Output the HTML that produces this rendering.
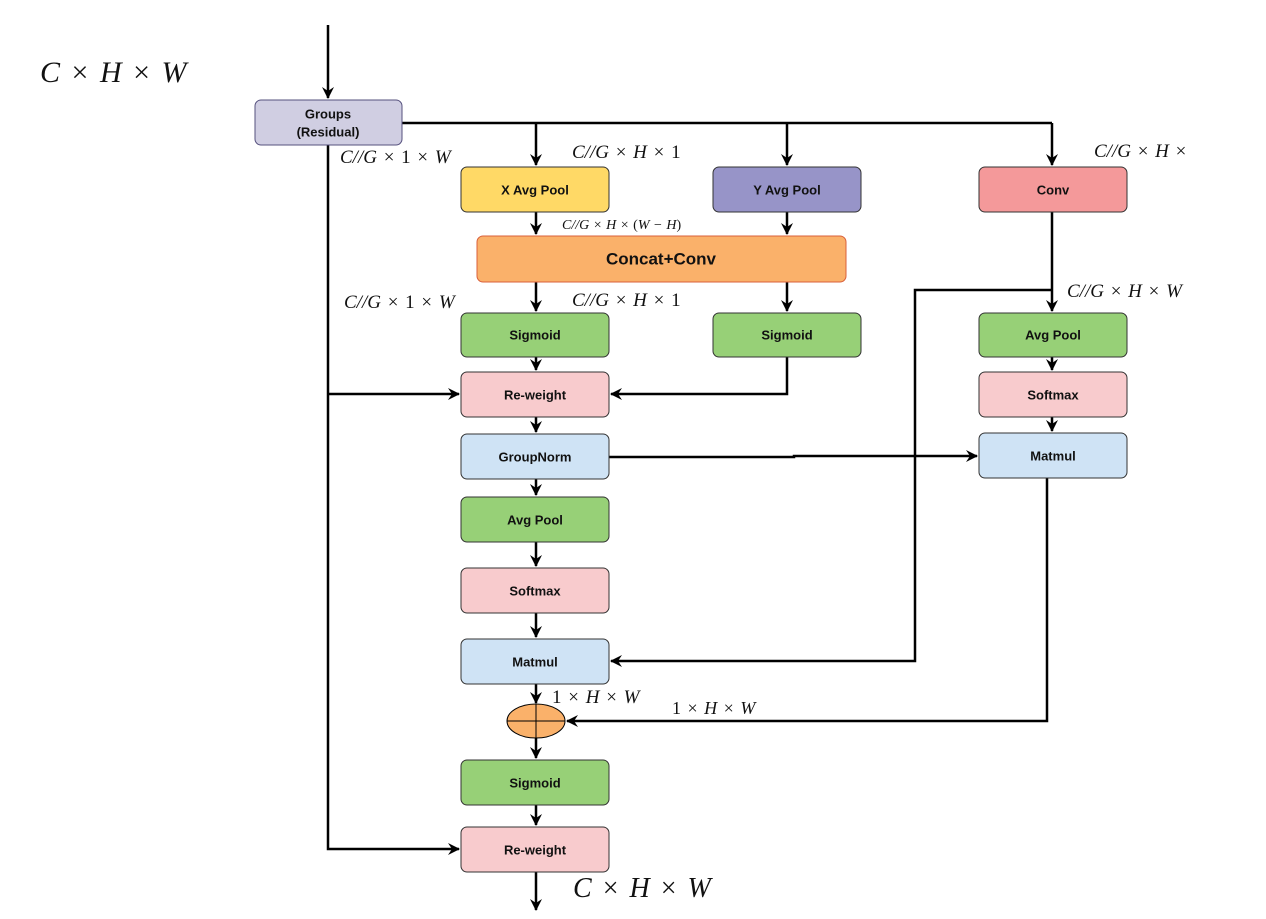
<!DOCTYPE html>
<html><head><meta charset="utf-8">
<style>
html,body{margin:0;padding:0;background:#fff;}
svg{display:block;}
.b{font-family:"Liberation Sans",sans-serif;font-weight:bold;font-size:13px;fill:#111;text-anchor:middle;dominant-baseline:central;}
.m{font-family:"Liberation Serif",serif;font-style:italic;fill:#111;word-spacing:2px;}
.n{font-style:normal;}
</style></head>
<body>
<svg width="1266" height="919" viewBox="0 0 1266 919" xmlns="http://www.w3.org/2000/svg">
<defs>
<marker id="a" viewBox="0 0 12 12" refX="11" refY="6" markerWidth="12" markerHeight="12" markerUnits="userSpaceOnUse" orient="auto">
<path d="M0,0 L12,6 L0,12 L4,6 z" fill="#000"/>
</marker>
</defs>
<g stroke="#000" stroke-width="2.5" fill="none">
<line x1="328" y1="25" x2="328" y2="98" marker-end="url(#a)"/>
<polyline points="402,123 1052,123"/>
<line x1="536" y1="123" x2="536" y2="165" marker-end="url(#a)"/>
<line x1="787" y1="123" x2="787" y2="165" marker-end="url(#a)"/>
<line x1="1052" y1="123" x2="1052" y2="165" marker-end="url(#a)"/>
<line x1="536" y1="212" x2="536" y2="234" marker-end="url(#a)"/>
<line x1="787" y1="212" x2="787" y2="234" marker-end="url(#a)"/>
<line x1="536" y1="282" x2="536" y2="311" marker-end="url(#a)"/>
<line x1="787" y1="282" x2="787" y2="311" marker-end="url(#a)"/>
<line x1="536" y1="357" x2="536" y2="370" marker-end="url(#a)"/>
<polyline points="787,357 787,394 611,394" marker-end="url(#a)"/>
<polyline points="328,145 328,849 459,849" marker-end="url(#a)"/>
<line x1="328" y1="394" x2="459" y2="394" marker-end="url(#a)"/>
<line x1="536" y1="417" x2="536" y2="432" marker-end="url(#a)"/>
<line x1="536" y1="479" x2="536" y2="495" marker-end="url(#a)"/>
<line x1="536" y1="542" x2="536" y2="566" marker-end="url(#a)"/>
<line x1="536" y1="613" x2="536" y2="637" marker-end="url(#a)"/>
<line x1="536" y1="684" x2="536" y2="703" marker-end="url(#a)"/>
<line x1="536" y1="738" x2="536" y2="758" marker-end="url(#a)"/>
<line x1="536" y1="805" x2="536" y2="825" marker-end="url(#a)"/>
<line x1="536" y1="872" x2="536" y2="910" marker-end="url(#a)"/>
<line x1="1052" y1="212" x2="1052" y2="311" marker-end="url(#a)"/>
<polyline points="1052,290 915,290 915,661 611,661" marker-end="url(#a)"/>
<line x1="1052" y1="357" x2="1052" y2="370" marker-end="url(#a)"/>
<line x1="1052" y1="417" x2="1052" y2="431" marker-end="url(#a)"/>
<polyline points="609,457 794,457 794,456 977,456" marker-end="url(#a)"/>
<polyline points="1047,478 1047,721 567,721" marker-end="url(#a)"/>
</g>
<g stroke-width="1">
<rect x="255" y="100" width="147" height="45" rx="6" fill="#d0cee2" stroke="#56517e"/>
<rect x="461" y="167" width="148" height="45" rx="6" fill="#ffd966" stroke="#333"/>
<rect x="713" y="167" width="148" height="45" rx="6" fill="#9794c8" stroke="#333"/>
<rect x="979" y="167" width="148" height="45" rx="6" fill="#f4999a" stroke="#333"/>
<rect x="477" y="236" width="369" height="46" rx="6" fill="#fab16a" stroke="#d9603b"/>
<rect x="461" y="313" width="148" height="44" rx="6" fill="#97d077" stroke="#333"/>
<rect x="713" y="313" width="148" height="44" rx="6" fill="#97d077" stroke="#333"/>
<rect x="979" y="313" width="148" height="44" rx="6" fill="#97d077" stroke="#333"/>
<rect x="461" y="372" width="148" height="45" rx="6" fill="#f8cbcd" stroke="#333"/>
<rect x="979" y="372" width="148" height="45" rx="6" fill="#f8cbcd" stroke="#333"/>
<rect x="461" y="434" width="148" height="45" rx="6" fill="#cfe3f5" stroke="#333"/>
<rect x="979" y="433" width="148" height="45" rx="6" fill="#cfe3f5" stroke="#333"/>
<rect x="461" y="497" width="148" height="45" rx="6" fill="#97d077" stroke="#333"/>
<rect x="461" y="568" width="148" height="45" rx="6" fill="#f8cbcd" stroke="#333"/>
<rect x="461" y="639" width="148" height="45" rx="6" fill="#cfe3f5" stroke="#333"/>
<rect x="461" y="760" width="148" height="45" rx="6" fill="#97d077" stroke="#333"/>
<rect x="461" y="827" width="148" height="45" rx="6" fill="#f8cbcd" stroke="#333"/>
<ellipse cx="536" cy="721" rx="29" ry="17" fill="#fab16a" stroke="#000"/>
<line x1="507" y1="721" x2="565" y2="721" stroke="#000"/>
<line x1="536" y1="704" x2="536" y2="738" stroke="#000"/>
</g>
<text class="b" x="328" y="114">Groups</text>
<text class="b" x="328" y="132">(Residual)</text>
<text class="b" x="535" y="190">X Avg Pool</text>
<text class="b" x="787" y="190">Y Avg Pool</text>
<text class="b" x="1053" y="190">Conv</text>
<text class="b" x="661" y="259" style="font-size:17px">Concat+Conv</text>
<text class="b" x="535" y="335">Sigmoid</text>
<text class="b" x="787" y="335">Sigmoid</text>
<text class="b" x="1053" y="335">Avg Pool</text>
<text class="b" x="535" y="395">Re-weight</text>
<text class="b" x="1053" y="395">Softmax</text>
<text class="b" x="535" y="457">GroupNorm</text>
<text class="b" x="1053" y="456">Matmul</text>
<text class="b" x="535" y="520">Avg Pool</text>
<text class="b" x="535" y="591">Softmax</text>
<text class="b" x="535" y="662">Matmul</text>
<text class="b" x="535" y="783">Sigmoid</text>
<text class="b" x="535" y="850">Re-weight</text>
<text class="m" x="40" y="82" font-size="30" style="word-spacing:4px">C <tspan class="n">×</tspan> H <tspan class="n">×</tspan> W</text>
<text class="m" x="573" y="897" font-size="28" style="word-spacing:4px">C <tspan class="n">×</tspan> H <tspan class="n">×</tspan> W</text>
<text class="m" x="340" y="163" font-size="19">C//G <tspan class="n">× 1 ×</tspan> W</text>
<text class="m" x="572" y="158" font-size="19">C//G <tspan class="n">×</tspan> H <tspan class="n">× 1</tspan></text>
<text class="m" x="1094" y="157" font-size="19">C//G <tspan class="n">×</tspan> H <tspan class="n">×</tspan></text>
<text class="m" x="562" y="229" font-size="14" style="word-spacing:1px">C//G <tspan class="n">×</tspan> H <tspan class="n">× (</tspan>W <tspan class="n">−</tspan> H<tspan class="n">)</tspan></text>
<text class="m" x="344" y="308" font-size="19">C//G <tspan class="n">× 1 ×</tspan> W</text>
<text class="m" x="572" y="306" font-size="19">C//G <tspan class="n">×</tspan> H <tspan class="n">× 1</tspan></text>
<text class="m" x="1067" y="297" font-size="19">C//G <tspan class="n">×</tspan> H <tspan class="n">×</tspan> W</text>
<text class="m" x="552" y="703" font-size="19"><tspan class="n">1 ×</tspan> H <tspan class="n">×</tspan> W</text>
<text class="m" x="672" y="714" font-size="18"><tspan class="n">1 ×</tspan> H <tspan class="n">×</tspan> W</text>
</svg>
</body></html>
